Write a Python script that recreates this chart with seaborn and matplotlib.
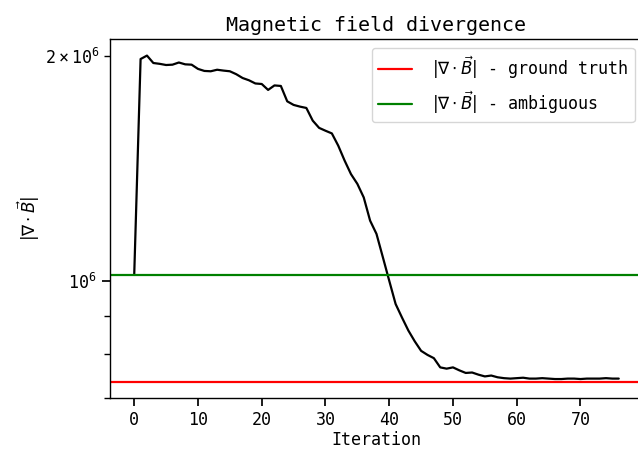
import numpy as np
import pandas as pd
import matplotlib
matplotlib.use("Agg")
import matplotlib.pyplot as plt
import seaborn as sns

# |div B| per iteration
divergence = [
    1.020e6, 1.979e6, 2.000e6, 1.955e6, 1.950e6, 1.943e6, 1.945e6, 1.958e6, 1.947e6, 1.945e6,
    1.920e6, 1.908e6, 1.906e6, 1.915e6, 1.910e6, 1.906e6, 1.889e6, 1.867e6, 1.854e6, 1.836e6,
    1.833e6, 1.800e6, 1.825e6, 1.822e6, 1.738e6, 1.719e6, 1.710e6, 1.703e6, 1.638e6, 1.602e6,
    1.588e6, 1.575e6, 1.517e6, 1.449e6, 1.390e6, 1.349e6, 1.294e6, 1.205e6, 1.157e6, 1.077e6,
    1.002e6, 0.933e6, 0.895e6, 0.860e6, 0.832e6, 0.808e6, 0.798e6, 0.790e6, 0.768e6, 0.765e6,
    0.768e6, 0.761e6, 0.755e6, 0.756e6, 0.751e6, 0.747e6, 0.749e6, 0.745e6, 0.743e6, 0.742e6,
    0.743e6, 0.744e6, 0.742e6, 0.742e6, 0.743e6, 0.742e6, 0.741e6, 0.741e6, 0.742e6, 0.742e6,
    0.741e6, 0.742e6, 0.742e6, 0.742e6, 0.743e6, 0.742e6, 0.742e6,
]
iterations = list(range(len(divergence)))

ground_truth = 7.35e5
ambiguous = 1.0208e6

label_gt = r"$|\nabla\cdot\vec{B}|$ - ground truth"
label_amb = r"$|\nabla\cdot\vec{B}|$ - ambiguous"

sns.set_theme(style="ticks")
plt.rcParams["font.family"] = ["DejaVu Sans Mono", "DejaVu Sans"]
plt.rcParams["font.size"] = 12
plt.rcParams["axes.labelsize"] = 12
plt.rcParams["axes.titlesize"] = 14.4
plt.rcParams["xtick.labelsize"] = 12
plt.rcParams["ytick.labelsize"] = 12
plt.rcParams["legend.fontsize"] = 12
plt.rcParams["axes.edgecolor"] = "black"
plt.rcParams["axes.linewidth"] = 1.0
plt.rcParams["xtick.color"] = "black"
plt.rcParams["ytick.color"] = "black"
plt.rcParams["text.color"] = "black"
plt.rcParams["axes.labelcolor"] = "black"

df = pd.DataFrame({"Iteration": iterations, "div": divergence})

fig = plt.figure(figsize=(6.38, 4.49), dpi=100)
ax = fig.add_axes([0.1724, 0.1136, 0.8354, 0.7989])

sns.lineplot(data=df, x="Iteration", y="div", color="black", linewidth=1.6, ax=ax)
ax.axhline(ground_truth, color="red", linewidth=1.6, label=label_gt)
ax.axhline(ambiguous, color="green", linewidth=1.6, label=label_amb)

ax.set_yscale("log")
ax.set_xticks([0, 10, 20, 30, 40, 50, 60, 70])
ax.set_xlabel("Iteration", labelpad=1.5)
ax.set_ylabel(r"$|\nabla\cdot\vec{B}|$", labelpad=2)
ax.set_title("Magnetic field divergence")
ax.legend(loc="upper right", handletextpad=1.2)

fig.savefig("out.png", dpi=100)
